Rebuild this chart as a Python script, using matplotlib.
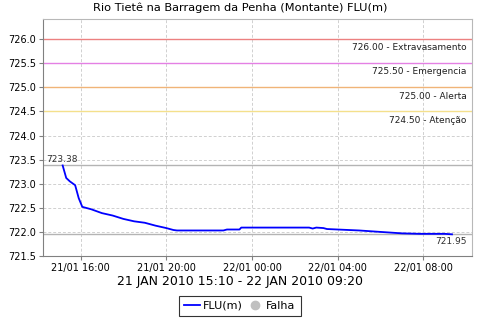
import numpy as np
import pandas as pd
import matplotlib
matplotlib.use('Agg')
import matplotlib.pyplot as plt
import matplotlib.dates as mdates
from matplotlib.lines import Line2D

# leituras FLU(m), 21/01/2010 15:10 ate 22/01/2010 09:20
times = ['2010-01-21 15:10', '2010-01-21 15:20', '2010-01-21 15:30', '2010-01-21 15:45',
         '2010-01-21 15:55', '2010-01-21 16:05', '2010-01-21 16:30', '2010-01-21 17:00',
         '2010-01-21 17:30', '2010-01-21 18:00', '2010-01-21 18:30', '2010-01-21 19:00',
         '2010-01-21 19:30', '2010-01-21 20:00', '2010-01-21 20:20', '2010-01-21 20:30',
         '2010-01-21 22:40', '2010-01-21 22:50', '2010-01-21 23:25', '2010-01-21 23:30',
         '2010-01-22 02:40', '2010-01-22 02:50', '2010-01-22 03:00', '2010-01-22 03:20',
         '2010-01-22 03:30', '2010-01-22 04:30', '2010-01-22 05:00', '2010-01-22 06:00',
         '2010-01-22 07:00', '2010-01-22 07:50', '2010-01-22 09:00', '2010-01-22 09:20']
levels = [723.38, 723.12, 723.05, 722.97, 722.70, 722.52, 722.47, 722.39,
          722.34, 722.27, 722.22, 722.19, 722.13, 722.08, 722.04, 722.03,
          722.03, 722.05, 722.05, 722.09, 722.09, 722.07, 722.09, 722.08,
          722.06, 722.04, 722.03, 722.00, 721.97, 721.96, 721.96, 721.95]

limits = [726.00, 725.50, 725.00, 724.50]
limit_names = ['Extravasamento', 'Emergencia', 'Alerta', 'Atenção']
limit_colors = ['#ec8080', '#e480e4', '#f0b478', '#f4e08c']

t = pd.to_datetime(times)
vmax, vmin = max(levels), min(levels)

fig = plt.figure(figsize=(4.8, 3.2), dpi=100)
ax = fig.add_axes([43/480, 1 - 256/320, (472 - 43)/480, (256 - 19)/320])

ax.set_xlim(pd.Timestamp('2010-01-21 14:15'), pd.Timestamp('2010-01-22 10:16'))
ax.set_ylim(721.5, 726.42)
ax.set_yticks(np.arange(721.5, 726.01, 0.5))
ax.yaxis.set_major_formatter(matplotlib.ticker.FormatStrFormatter('%.1f'))
ax.xaxis.set_major_locator(mdates.HourLocator(byhour=[0, 4, 8, 12, 16, 20]))
ax.xaxis.set_major_formatter(mdates.DateFormatter('%d/%m %H:%M'))
ax.grid(True, color='#d0d0d0', ls=(0, (3, 2)), lw=0.7)
ax.tick_params(labelsize=7, length=3, color='#808080', pad=2)
for s in ['left', 'bottom']:
    ax.spines[s].set_color('#808080')
for s in ['top', 'right']:
    ax.spines[s].set_color('#b8b8b8')

for lv, nm, c in zip(limits, limit_names, limit_colors):
    ax.axhline(lv, color=c, lw=1)
    ax.annotate(f'{lv:.2f} - {nm}', (1, lv), xycoords=('axes fraction', 'data'),
                xytext=(-4, -3), textcoords='offset points', ha='right', va='top',
                fontsize=6.5, color='#202020')

ax.axhline(vmax, color='#b4b4b4', lw=1)
ax.axhline(vmin, color='#b4b4b4', lw=1)
ax.annotate(f'{vmax:.2f}', (0, vmax), xycoords=('axes fraction', 'data'),
            xytext=(2, 1), textcoords='offset points', ha='left', va='bottom',
            fontsize=6.5, color='#303030')
ax.annotate(f'{vmin:.2f}', (1, vmin), xycoords=('axes fraction', 'data'),
            xytext=(-4, -2), textcoords='offset points', ha='right', va='top',
            fontsize=6.5, color='#303030')

ax.plot(t, levels, color='#0000ff', lw=1.3)

fig.text(0.5, 1 - 8/320, 'Rio Tietê na Barragem da Penha (Montante) FLU(m)',
         ha='center', va='center', fontsize=8.2)
fig.text(0.5, 1 - 281/320, '21 JAN 2010 15:10 - 22 JAN 2010 09:20',
         ha='center', va='center', fontsize=9)

handles = [Line2D([], [], color='#0000ff', lw=1.3),
           Line2D([], [], marker='o', ls='none', color='#c0c0c0', markersize=6)]
leg = fig.legend(handles, ['FLU(m)', 'Falha'], loc='center', bbox_to_anchor=(0.5, 1 - 306/320),
                 ncol=2, fontsize=8, frameon=True, fancybox=False, handlelength=1.4,
                 handletextpad=0.3, columnspacing=0.4, borderpad=0.45, borderaxespad=0)
leg.get_frame().set_edgecolor('black')
leg.get_frame().set_linewidth(0.8)

fig.savefig('out.png', dpi=100)
